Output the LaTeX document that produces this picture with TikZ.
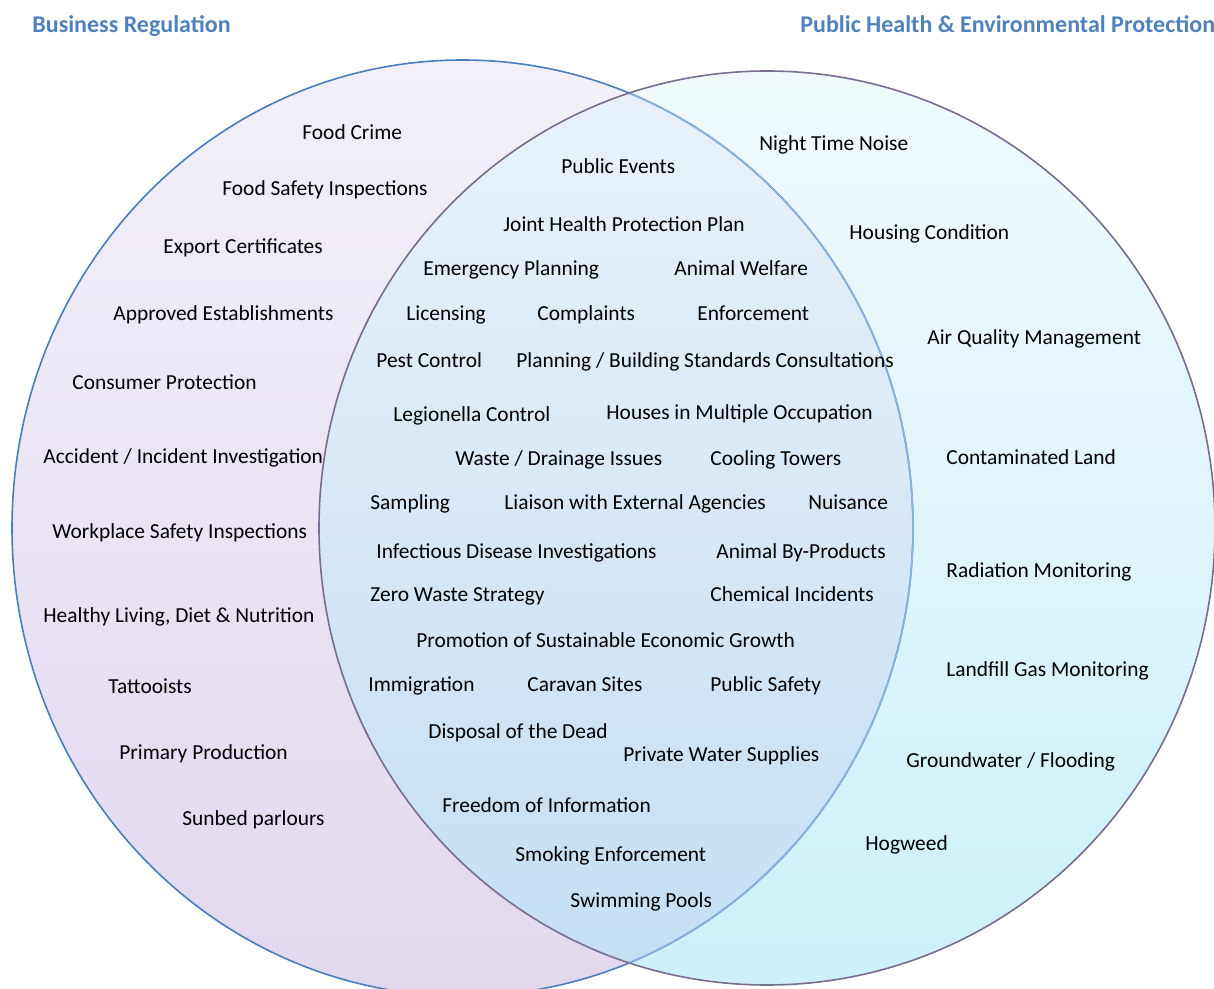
\documentclass[tikz,border=0pt]{standalone}
\usepackage{fontspec}
\setmainfont{Carlito}
\definecolor{titleblue}{HTML}{4F81BD}
\definecolor{lavtop}{HTML}{F3F0F9}
\definecolor{lavbot}{HTML}{E1D8EF}
\definecolor{cyantop}{HTML}{F0FAFD}
\definecolor{cyanbot}{HTML}{CDF0FA}
\definecolor{midtop}{HTML}{E9F2FB}
\definecolor{midbot}{HTML}{C3DEF4}
\definecolor{leftline}{HTML}{4A7EBB}
\definecolor{leftlinein}{HTML}{8AB2DC}
\definecolor{rightline}{HTML}{7A6C90}
\begin{document}
\begin{tikzpicture}[x=0.5pt,y=-0.5pt,
  lbl/.style={anchor=base west, inner sep=0pt, font=\fontsize{10.7}{12}\selectfont, text=black},
  ttl/.style={anchor=base west, inner sep=0pt, font=\fontsize{12}{14}\selectfont\bfseries, text=titleblue},
  lshape/.style={x radius=225.25pt, y radius=234pt},
  rshape/.style={x radius=224pt, y radius=228.5pt}]
\useasboundingbox (0,0) rectangle (1214,989);
\coordinate (L) at (462.5,528);
\coordinate (R) at (767,528);
\begin{scope}
  \clip (0,0) rectangle (1214,989);
  \fill[top color=lavtop, bottom color=lavbot] (L) ellipse [lshape];
  \fill[top color=cyantop, bottom color=cyanbot] (R) ellipse [rshape];
  \begin{scope}
    \clip (L) ellipse [lshape];
    \fill[top color=midtop, bottom color=midbot] (R) ellipse [rshape];
  \end{scope}
  \draw[leftline, line width=0.8pt] (L) ellipse [lshape];
  \begin{scope}
    \clip (R) ellipse [rshape];
    \draw[leftlinein, line width=0.8pt] (L) ellipse [lshape];
  \end{scope}
  \draw[rightline, line width=0.8pt] (R) ellipse [rshape];
\end{scope}
% titles
\node[ttl] (t1) at (32,33) {Business Regulation};
\node[ttl] (t2) at (800,33) {Public Health \& Environmental Protection};
% left
\node[lbl] (a1) at (302,140) {Food Crime};
\node[lbl] (a2) at (222,196) {Food Safety Inspections};
\node[lbl] (a3) at (163,254) {Export Certificates};
\node[lbl] (a4) at (113,321) {Approved Establishments};
\node[lbl] (a5) at (72,389) {Consumer Protection};
\node[lbl] (a6) at (43,463) {Accident / Incident Investigation};
\node[lbl] (a7) at (52,538) {Workplace Safety Inspections};
\node[lbl] (a8) at (43,622) {Healthy Living, Diet \& Nutrition};
\node[lbl] (a9) at (108,693) {Tattooists};
\node[lbl] (a10) at (119,759) {Primary Production};
\node[lbl] (a11) at (182,825) {Sunbed parlours};
% middle
\node[lbl] (m1) at (561,174) {Public Events};
\node[lbl] (m2) at (503,232) {Joint Health Protection Plan};
\node[lbl] (m3) at (423,276) {Emergency Planning};
\node[lbl] (m4) at (674,276) {Animal Welfare};
\node[lbl] (m5) at (406,321) {Licensing};
\node[lbl] (m6) at (537,321) {Complaints};
\node[lbl] (m7) at (697,321) {Enforcement};
\node[lbl] (m8) at (376,367) {Pest Control};
\node[lbl] (m9) at (516,367) {Planning / Building Standards Consultations};
\node[lbl] (m10) at (393,421) {Legionella Control};
\node[lbl] (m11) at (606,419) {Houses in Multiple Occupation};
\node[lbl] (m12) at (455,465) {Waste / Drainage Issues};
\node[lbl] (m13) at (710,465) {Cooling Towers};
\node[lbl] (m14) at (370,509) {Sampling};
\node[lbl] (m15) at (504,509) {Liaison with External Agencies};
\node[lbl] (m16) at (808,509) {Nuisance};
\node[lbl] (m17) at (376,558) {Infectious Disease Investigations};
\node[lbl] (m18) at (716,558) {Animal By-Products};
\node[lbl] (m19) at (370,601) {Zero Waste Strategy};
\node[lbl] (m20) at (710,601) {Chemical Incidents};
\node[lbl] (m21) at (416,647) {Promotion of Sustainable Economic Growth};
\node[lbl] (m22) at (368,691) {Immigration};
\node[lbl] (m23) at (527,691) {Caravan Sites};
\node[lbl] (m24) at (710,691) {Public Safety};
\node[lbl] (m25) at (428,738) {Disposal of the Dead};
\node[lbl] (m26) at (623,761) {Private Water Supplies};
\node[lbl] (m27) at (442,812) {Freedom of Information};
\node[lbl] (m28) at (515,861) {Smoking Enforcement};
\node[lbl] (m29) at (570,907) {Swimming Pools};
% right
\node[lbl] (r1) at (759,151) {Night Time Noise};
\node[lbl] (r2) at (849,240) {Housing Condition};
\node[lbl] (r3) at (927,344) {Air Quality Management};
\node[lbl] (r4) at (946,464) {Contaminated Land};
\node[lbl] (r5) at (946,577) {Radiation Monitoring};
\node[lbl] (r6) at (946,676) {Landfill Gas Monitoring};
\node[lbl] (r7) at (906,767) {Groundwater / Flooding};
\node[lbl] (r8) at (865,850) {Hogweed};
\end{tikzpicture}
\end{document}
